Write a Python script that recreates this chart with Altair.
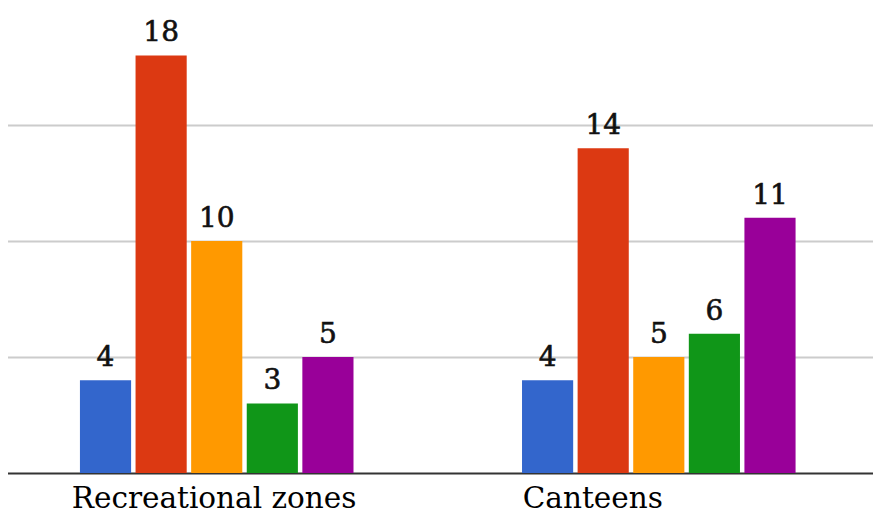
import altair as alt
import pandas as pd

categories = ["Recreational zones", "Canteens"]
series = ["S1", "S2", "S3", "S4", "S5"]
colors = ["#3366cc", "#dc3912", "#ff9900", "#109618", "#990099"]
values_recreational = [4, 18, 10, 3, 5]
values_canteens = [4, 14, 5, 6, 11]

rows = []
for s, v in zip(series, values_recreational):
    rows.append({"category": categories[0], "series": s, "value": v})
for s, v in zip(series, values_canteens):
    rows.append({"category": categories[1], "series": s, "value": v})
df = pd.DataFrame(rows)

font = "DejaVu Serif"

x_enc = alt.X(
    "category:N",
    sort=categories,
    scale=alt.Scale(paddingInner=0.3812, paddingOuter=0.178, align=0.508),
    axis=alt.Axis(
        title=None,
        ticks=False,
        domain=True,
        domainColor="#333333",
        domainWidth=2,
        labelAngle=0,
        labelAlign="left",
        labelBaseline="alphabetic",
        labelOffset={"condition": {"test": "datum.value == 'Canteens'", "value": -136}, "value": -145},
        labelPadding=34,
        labelFont=font,
        labelFontSize=29.5,
        labelColor="#000000",
        labelLimit=0,
        grid=False,
    ),
)
xoff = alt.XOffset("series:N", sort=series, scale=alt.Scale(paddingInner=0.08, paddingOuter=0))
y_enc = alt.Y(
    "value:Q",
    scale=alt.Scale(domain=[0, 20], nice=False),
    axis=alt.Axis(
        title=None,
        labels=False,
        ticks=False,
        domain=False,
        values=[5, 10, 15],
        gridColor="#cccccc",
        gridWidth=2,
    ),
)

base = alt.Chart(df).encode(x=x_enc, xOffset=xoff, y=y_enc)

bars = base.mark_bar().encode(
    color=alt.Color("series:N", sort=series, scale=alt.Scale(domain=series, range=colors), legend=None)
)
labels = base.mark_text(
    baseline="alphabetic", dy=-14, font=font, fontSize=28, color="#111111",
    stroke="#111111", strokeWidth=0.6,
).encode(text="value:Q")

chart = (
    alt.layer(bars, labels)
    .properties(
        width=873,
        height=464,
        background="white",
        autosize=alt.AutoSizeParams(type="none"),
        padding={"left": -8, "top": 1, "right": 0, "bottom": 43},
    )
    .configure_view(stroke=None)
)

chart.save("out.html", embed_options={"renderer": "svg", "actions": False})
